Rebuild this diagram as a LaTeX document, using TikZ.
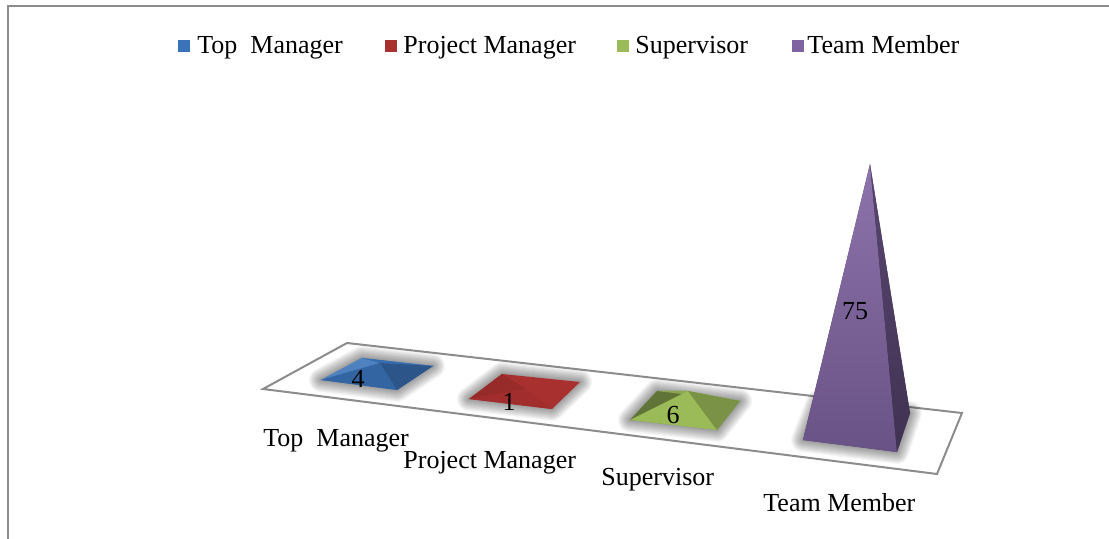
\documentclass[tikz,border=0pt]{standalone}
\usepackage{fontspec}
\setmainfont{Liberation Serif}
\usetikzlibrary{positioning}

\definecolor{tmblue}{HTML}{3A73B8}
\definecolor{tmred}{HTML}{A8302F}
\definecolor{tmgreen}{HTML}{9BBB59}
\definecolor{tmpurple}{HTML}{8064A2}
\definecolor{frameline}{HTML}{8C8C8C}

\tikzset{
  lbl/.style={font=\fontsize{13}{15}\selectfont, inner sep=0pt},
  keybox/.style={minimum size=6pt, inner sep=0pt},
  floorline/.style={draw=frameline, line width=1pt, fill=white},
  halo/.style={line width=#1pt, black, opacity=0.035, line join=round}
}

\begin{document}
\begin{tikzpicture}[x=0.5pt, y=-0.5pt]
\useasboundingbox (0,0) rectangle (1109,539);

\draw[frameline, line width=1pt] (8,539) -- (8,6) -- (1109,6);

\draw[floorline] (263,389) -- (347,343) -- (962,413) -- (937,474) -- cycle;

\coordinate (bL) at (321,380);
\coordinate (bB) at (397,390);
\coordinate (bR) at (433,366);
\coordinate (bT) at (362,358);
\coordinate (bA) at (380,363);

\coordinate (rL) at (469,399);
\coordinate (rB) at (552,409);
\coordinate (rR) at (580,382);
\coordinate (rT) at (502,374);
\coordinate (rA) at (526,389);

\coordinate (gL) at (630,420);
\coordinate (gB) at (717,430);
\coordinate (gR) at (740,401);
\coordinate (gT) at (657,391);
\coordinate (gA) at (688,391);

\coordinate (pL) at (803,440);
\coordinate (pB) at (897,452);
\coordinate (pR) at (910,413);
\coordinate (pT) at (818,402);
\coordinate (pA) at (870,164);

\foreach \w in {12,11,...,1} {
  \draw[halo=\w] (bL) -- (bB) -- (bR) -- (bT) -- cycle;
  \draw[halo=\w] (rL) -- (rB) -- (rR) -- (rT) -- cycle;
  \draw[halo=\w] (gL) -- (gB) -- (gR) -- (gT) -- cycle;
  \draw[halo=\w] (pL) -- (pB) -- (pR) -- (pT) -- cycle;
}

\fill[tmblue] (bL) -- (bB) -- (bR) -- (bT) -- cycle;
\fill[tmblue!90!white] (bL) -- (bT) -- (bA) -- cycle;
\fill[tmblue!95!black] (bT) -- (bR) -- (bA) -- cycle;
\fill[tmblue!88!black] (bL) -- (bA) -- (bB) -- cycle;
\fill[tmblue!75!black] (bB) -- (bA) -- (bR) -- cycle;

\fill[tmred] (rL) -- (rB) -- (rR) -- (rT) -- cycle;
\fill[tmred!90!black] (rL) -- (rT) -- (rA) -- cycle;
\fill[tmred!96!black] (rL) -- (rA) -- (rB) -- cycle;

\fill[tmgreen!80!black] (gL) -- (gB) -- (gR) -- (gT) -- cycle;
\fill[tmgreen!62!black] (gL) -- (gT) -- (gA) -- cycle;
\fill[tmgreen!90!black] (gT) -- (gR) -- (gA) -- cycle;
\fill[tmgreen] (gL) -- (gA) -- (gB) -- cycle;
\fill[tmgreen!78!black] (gB) -- (gA) -- (gR) -- cycle;

\fill[tmpurple!55!black] (pL) -- (pB) -- (pR) -- (pA) -- cycle;
\shade[top color=tmpurple!90!white, bottom color=tmpurple!82!black] (pL) -- (pA) -- (pB) -- cycle;
\shade[top color=tmpurple!70!black, bottom color=tmpurple!50!black] (pB) -- (pA) -- (pR) -- cycle;

\node[lbl, anchor=base] (v1) at (358,388) {4};
\node[lbl, anchor=base] (v2) at (509,411) {1};
\node[lbl, anchor=base] (v3) at (673,424) {6};
\node[lbl, anchor=base] (v4) at (855,320) {75};

\node[lbl, anchor=base west] (c1) at (263,447) {Top\ \ Manager};
\node[lbl, anchor=base west] (c2) at (403,469) {Project Manager};
\node[lbl, anchor=base west] (c3) at (601,486) {Supervisor};
\node[lbl, anchor=base west] (c4) at (763,512) {Team Member};

\node[keybox, fill=tmblue] (k1) at (184,46) {};
\node[lbl, anchor=base west] (l1) at (197,54) {Top\ \ Manager};
\node[keybox, fill=tmred] (k2) at (391,46) {};
\node[lbl, anchor=base west] (l2) at (403,54) {Project Manager};
\node[keybox, fill=tmgreen] (k3) at (623,46) {};
\node[lbl, anchor=base west] (l3) at (635,54) {Supervisor};
\node[keybox, fill=tmpurple] (k4) at (798,46) {};
\node[lbl, anchor=base west] (l4) at (807,54) {Team Member};

\end{tikzpicture}
\end{document}
